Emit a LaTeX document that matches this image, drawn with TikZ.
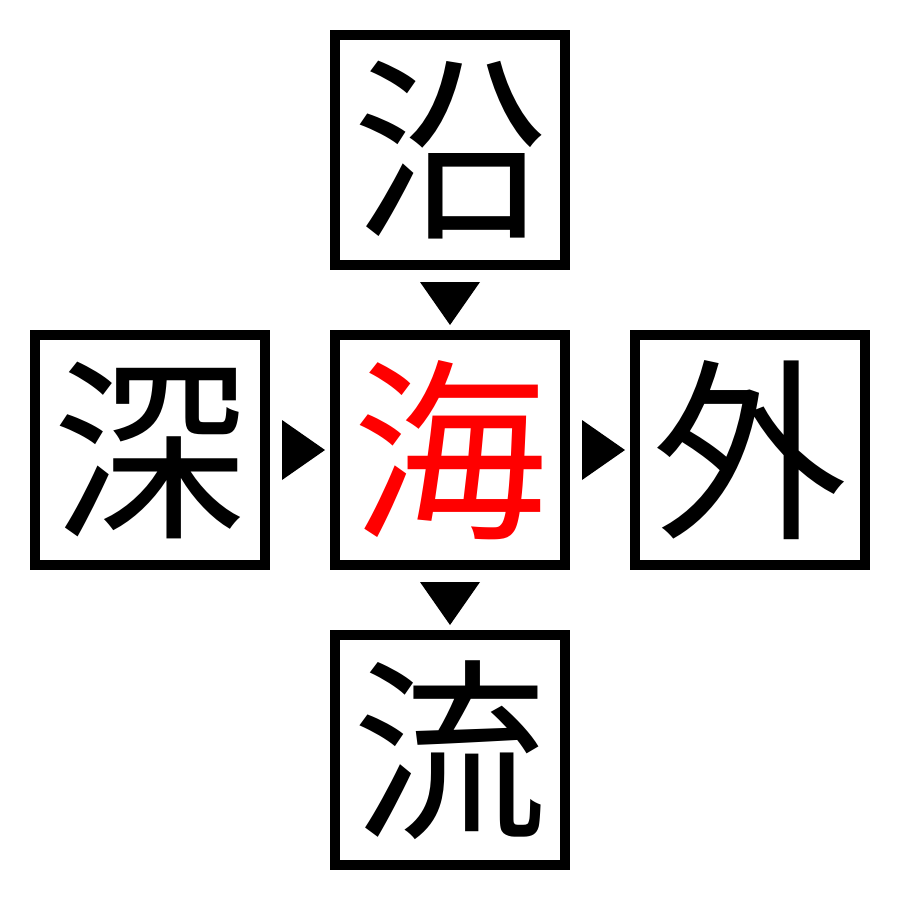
\documentclass[tikz,border=0pt]{standalone}
\usepackage{fontspec}
\newfontfamily\cjk{Noto Sans CJK JP}
\begin{document}
\begin{tikzpicture}[x=1pt,y=-1pt,
  charbox/.style={draw=black,line width=10pt,minimum size=230pt,inner sep=0pt,
    font=\cjk\fontsize{195}{195}\selectfont},
  tri/.style={fill=black,draw=none}]
\useasboundingbox (0,0) rectangle (900,900);
\node[charbox] (top) at (450,150) {沿};
\node[charbox,text=red] (mid) at (450,450) {海};
\node[charbox] (left) at (150,450) {深};
\node[charbox] (right) at (750,450) {外};
\node[charbox] (bot) at (450,750) {流};
\fill[tri] (420,282) -- (480,282) -- (450,325) -- cycle;
\fill[tri] (420,582) -- (480,582) -- (450,625) -- cycle;
\fill[tri] (282,420) -- (282,480) -- (325,450) -- cycle;
\fill[tri] (582,420) -- (582,480) -- (625,450) -- cycle;
\end{tikzpicture}
\end{document}
